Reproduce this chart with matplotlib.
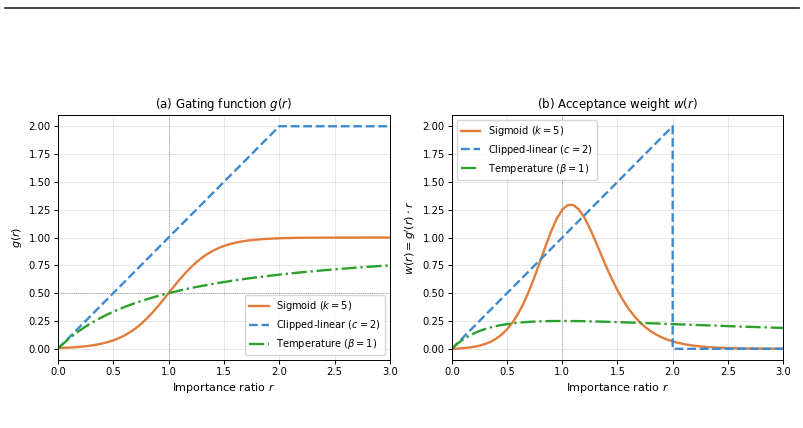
import matplotlib
matplotlib.use("Agg")
import matplotlib.pyplot as plt
from matplotlib.lines import Line2D

# importance ratio grid (at 0.05 steps)
r = [i * 0.05 for i in range(61)]

# (a) gating function g(r)
g_sigmoid = [
    0.0067, 0.0086, 0.0110, 0.0141, 0.0180, 0.0230, 0.0293, 0.0373, 0.0474, 0.0601,
    0.0759, 0.0954, 0.1192, 0.1480, 0.1824, 0.2227, 0.2689, 0.3208, 0.3775, 0.4378,
    0.5000, 0.5622, 0.6225, 0.6792, 0.7311, 0.7773, 0.8176, 0.8520, 0.8808, 0.9047,
    0.9241, 0.9399, 0.9526, 0.9627, 0.9707, 0.9770, 0.9820, 0.9859, 0.9890, 0.9914,
    0.9933, 0.9948, 0.9959, 0.9968, 0.9975, 0.9981, 0.9985, 0.9988, 0.9991, 0.9993,
    0.9995, 0.9996, 0.9997, 0.9997, 0.9998, 0.9998, 0.9999, 0.9999, 0.9999, 0.9999,
    1.0000,
]
g_temp = [
    0.0000, 0.0476, 0.0909, 0.1304, 0.1667, 0.2000, 0.2308, 0.2593, 0.2857, 0.3103,
    0.3333, 0.3548, 0.3750, 0.3939, 0.4118, 0.4286, 0.4444, 0.4595, 0.4737, 0.4872,
    0.5000, 0.5122, 0.5238, 0.5349, 0.5455, 0.5556, 0.5652, 0.5745, 0.5833, 0.5918,
    0.6000, 0.6078, 0.6154, 0.6226, 0.6296, 0.6364, 0.6429, 0.6491, 0.6552, 0.6610,
    0.6667, 0.6721, 0.6774, 0.6825, 0.6875, 0.6923, 0.6970, 0.7015, 0.7059, 0.7101,
    0.7143, 0.7183, 0.7222, 0.7260, 0.7297, 0.7333, 0.7368, 0.7403, 0.7436, 0.7468,
    0.7500,
]
r_clip_g = [0.0, 2.0, 3.0]
g_clip = [0.0, 2.0, 2.0]

# (b) acceptance weight w(r)
w_sigmoid = [
    0.0000, 0.0021, 0.0054, 0.0104, 0.0177, 0.0281, 0.0427, 0.0629, 0.0904, 0.1271,
    0.1753, 0.2372, 0.3150, 0.4098, 0.5220, 0.6492, 0.7864, 0.9260, 1.0575, 1.1691,
    1.2500, 1.2922, 1.2925, 1.2529, 1.1796, 1.0819, 0.9692, 0.8512, 0.7350, 0.6254,
    0.5258, 0.4377, 0.3614, 0.2965, 0.2418, 0.1964, 0.1590, 0.1282, 0.1033, 0.0830,
    0.0665, 0.0532, 0.0426, 0.0341, 0.0272, 0.0217, 0.0173, 0.0137, 0.0109, 0.0087,
    0.0069, 0.0055, 0.0044, 0.0035, 0.0027, 0.0022, 0.0017, 0.0014, 0.0011, 0.0009,
    0.0007,
]
w_temp = [
    0.0000, 0.0454, 0.0826, 0.1134, 0.1389, 0.1600, 0.1775, 0.1921, 0.2041, 0.2140,
    0.2222, 0.2289, 0.2344, 0.2388, 0.2422, 0.2449, 0.2469, 0.2484, 0.2493, 0.2498,
    0.2500, 0.2499, 0.2494, 0.2488, 0.2479, 0.2469, 0.2457, 0.2444, 0.2431, 0.2416,
    0.2400, 0.2384, 0.2367, 0.2350, 0.2332, 0.2314, 0.2296, 0.2278, 0.2259, 0.2241,
    0.2222, 0.2204, 0.2185, 0.2167, 0.2148, 0.2130, 0.2112, 0.2094, 0.2076, 0.2059,
    0.2041, 0.2023, 0.2006, 0.1989, 0.1972, 0.1956, 0.1939, 0.1923, 0.1907, 0.1891,
    0.1875,
]
r_clip_w = [0.0, 2.0, 2.0, 3.0]
w_clip = [0.0, 2.0, 0.0, 0.0]

labels = [r"Sigmoid ($k=5$)", r"Clipped-linear ($c=2$)", r"Temperature ($\beta=1$)"]
colors = ["#e27c3b", "#3d89d0", "#2ca02c"]

fig = plt.figure(figsize=(8.04, 4.28), dpi=100)
fig.add_artist(Line2D([0.006, 0.994], [0.981, 0.981], transform=fig.transFigure,
                      color="#222222", lw=1.2))

ax1 = fig.add_axes([0.072, 0.159, 0.413, 0.572])
ax2 = fig.add_axes([0.562, 0.159, 0.412, 0.572])

ax1.plot(r, g_sigmoid, color=colors[0], lw=1.7, label=labels[0])
ax1.plot(r_clip_g, g_clip, color=colors[1], lw=1.7, ls="--", label=labels[1])
ax1.plot(r, g_temp, color=colors[2], lw=1.7, ls="-.", label=labels[2])
ax1.axvline(1.0, color="gray", lw=0.6, ls=":")
ax1.axhline(0.5, color="gray", lw=0.6, ls=":")
ax1.set_title(r"(a) Gating function $g(r)$", fontsize=8.5, pad=5)
ax1.set_ylabel(r"$g(r)$", fontsize=8, labelpad=3)
ax1.legend(loc="lower right", fontsize=7.1)

ax2.plot(r, w_sigmoid, color=colors[0], lw=1.7, label=labels[0])
ax2.plot(r_clip_w, w_clip, color=colors[1], lw=1.7, ls="--", label=labels[1])
ax2.plot(r, w_temp, color=colors[2], lw=1.7, ls="-.", label=labels[2])
ax2.axvline(1.0, color="gray", lw=0.6, ls=":")
ax2.set_title(r"(b) Acceptance weight $w(r)$", fontsize=8.5, pad=5)
ax2.set_ylabel(r"$w(r) = g'(r)\cdot r$", fontsize=8, labelpad=3)
ax2.legend(loc="upper left", fontsize=7.1)

for ax in (ax1, ax2):
    ax.set_xlim(0, 3)
    ax.set_ylim(-0.1, 2.1)
    ax.set_xticks([0.0, 0.5, 1.0, 1.5, 2.0, 2.5, 3.0])
    ax.set_yticks([0.0, 0.25, 0.5, 0.75, 1.0, 1.25, 1.5, 1.75, 2.0])
    ax.set_xlabel(r"Importance ratio $r$", fontsize=8, labelpad=2.5)
    ax.tick_params(labelsize=7.2, length=2.8, width=0.7, pad=2.3)
    ax.grid(True, alpha=0.3, lw=0.7)
    for spine in ax.spines.values():
        spine.set_linewidth(0.7)

fig.savefig("out.png", dpi=100)
